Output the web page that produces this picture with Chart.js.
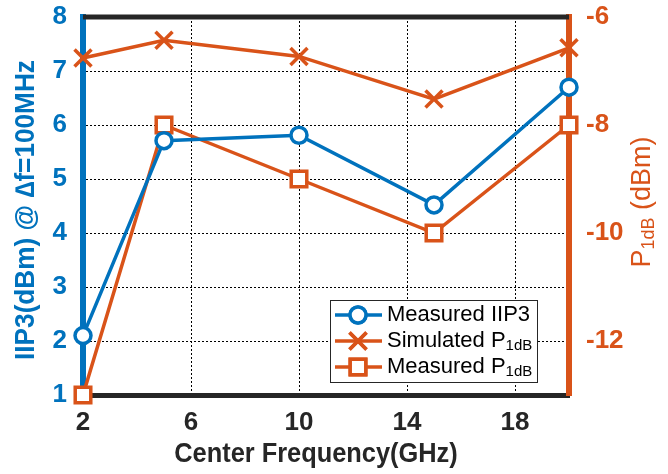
<!DOCTYPE html>
<html>
<head>
<meta charset="utf-8">
<script src="https://cdn.jsdelivr.net/npm/chart.js@4"></script>
<style>
  html, body { margin: 0; padding: 0; background: #fff; }
  #wrap { width: 668px; height: 474px; }
</style>
</head>
<body>
<div id="wrap"><canvas id="myChart" width="668" height="474"></canvas></div>
<script>
// data
const freqs = [2, 5, 10, 15, 20];
const iip3 = [2.1, 5.71, 5.81, 4.52, 6.7];
const simP1dB = [-6.76, -6.43, -6.73, -7.52, -6.57];
const measP1dB = [-13, -8, -9, -10, -8];

const xTicks = [2, 6, 10, 14, 18];
const leftTicks = [1, 2, 3, 4, 5, 6, 7, 8];
const rightTicks = [-6, -8, -10, -12];

const blue = '#0072BD';
const orange = '#D95319';
const dark = '#262626';
const FONT = "'Liberation Sans', Arial, sans-serif";

// legend entries: [main text, subscript]
const legendItems = [
    ['Measured IIP3', ''],
    ['Simulated P', '1dB'],
    ['Measured P', '1dB']
];

function pts(ys) {
    return freqs.map((f, i) => ({ x: f, y: ys[i] }));
}

function noPad(s) {
    s.paddingTop = 0;
    s.paddingBottom = 0;
    s.paddingLeft = 0;
    s.paddingRight = 0;
}

const decor = {
    id: 'decor',
    beforeDatasetsDraw(chart) {
        const c = chart.ctx, a = chart.chartArea;
        c.save();
        c.strokeStyle = dark;
        c.lineWidth = 5;
        c.beginPath();
        c.moveTo(a.left, a.top);
        c.lineTo(a.right, a.top);
        c.stroke();
        c.restore();
    },
    afterDraw(chart) {
        const c = chart.ctx, a = chart.chartArea;
        const ds = chart.data.datasets;
        c.save();
        // left title
        c.fillStyle = blue;
        c.font = 'bold 27px ' + FONT;
        c.textAlign = 'center';
        c.textBaseline = 'middle';
        c.translate(27, 210);
        c.rotate(-Math.PI / 2);
        c.scale(0.97, 1);
        c.fillText('IIP3(dBm) @ \u2206f=100MHz', 0, 0);
        c.restore();

        // right title with subscript
        c.save();
        c.fillStyle = orange;
        c.translate(643, 202);
        c.rotate(-Math.PI / 2);
        c.textBaseline = 'middle';
        c.textAlign = 'left';
        const bigR = '27px ' + FONT, smallR = '18px ' + FONT;
        c.font = bigR; const w1 = c.measureText('P').width;
        c.font = smallR; const w2 = c.measureText('1dB').width;
        c.font = bigR; const w3 = c.measureText(' (dBm)').width;
        let x0 = -(w1 + w2 + w3) / 2;
        c.font = bigR; c.fillText('P', x0, 0); x0 += w1;
        c.font = smallR; c.fillText('1dB', x0, 6); x0 += w2;
        c.font = bigR; c.fillText(' (dBm)', x0, 0);
        c.restore();

        // x title
        c.save();
        c.fillStyle = dark;
        c.font = 'bold 27px ' + FONT;
        c.textAlign = 'center';
        c.textBaseline = 'middle';
        c.translate(316, 455);
        c.scale(0.94, 1);
        c.fillText('Center Frequency(GHz)', 0, 0);
        c.restore();

        // legend box
        const bx = a.right - 239, by = a.bottom - 95, bw = 207, bh = 82;
        c.save();
        c.fillStyle = '#fff';
        c.fillRect(bx, by, bw, bh);
        c.strokeStyle = dark;
        c.lineWidth = 1;
        c.strokeRect(bx + 0.5, by + 0.5, bw, bh);
        legendItems.forEach((it, i) => {
            const d = ds[i];
            const cy = by + 15 + i * 26;
            c.strokeStyle = d.borderColor;
            c.lineWidth = d.borderWidth;
            c.beginPath();
            c.moveTo(bx + 5, cy);
            c.lineTo(bx + 52, cy);
            c.stroke();
            Chart.helpers.drawPoint(c, {
                pointStyle: d.pointStyle,
                radius: d.pointRadius,
                borderWidth: d.pointBorderWidth,
                rotation: 0
            }, bx + 28, cy);
            c.fillStyle = d.pointBackgroundColor;
            c.fill();
            c.stroke();
            c.fillStyle = '#000';
            c.textBaseline = 'middle';
            c.textAlign = 'left';
            c.font = '22px ' + FONT;
            c.fillText(it[0], bx + 57, cy);
            if (it[1]) {
                const w = c.measureText(it[0]).width;
                c.font = '15px ' + FONT;
                c.fillText(it[1], bx + 57 + w, cy + 5);
            }
        });
        c.restore();
    }
};

const ctx = document.getElementById('myChart');
new Chart(ctx, {
    type: 'line',
    data: {
        datasets: [{
            label: 'Measured IIP3',
            data: pts(iip3),
            yAxisID: 'y',
            clip: false,
            borderColor: blue,
            borderWidth: 3.5,
            pointStyle: 'circle',
            pointRadius: 8,
            pointBorderWidth: 3.5,
            pointBackgroundColor: '#fff',
            pointBorderColor: blue
        }, {
            label: 'Simulated P1dB',
            data: pts(simP1dB),
            yAxisID: 'y2',
            clip: false,
            borderColor: orange,
            borderWidth: 3.5,
            pointStyle: 'crossRot',
            pointRadius: 12,
            pointBorderWidth: 3.5,
            pointBackgroundColor: orange,
            pointBorderColor: orange
        }, {
            label: 'Measured P1dB',
            data: pts(measP1dB),
            yAxisID: 'y2',
            clip: false,
            borderColor: orange,
            borderWidth: 3.5,
            pointStyle: 'rect',
            pointRadius: 11,
            pointBorderWidth: 3.5,
            pointBackgroundColor: '#fff',
            pointBorderColor: orange
        }]
    },
    options: {
        responsive: false,
        animation: false,
        layout: { padding: { top: 17, left: 0, right: 0, bottom: 0 } },
        plugins: { legend: { display: false }, tooltip: { enabled: false } },
        scales: {
            x: {
                type: 'linear',
                min: 2,
                max: 20,
                afterBuildTicks: s => { s.ticks = xTicks.map(v => ({ value: v })); },
                afterFit: s => { s.height = 79; noPad(s); },
                grid: { color: '#000', lineWidth: 1, drawTicks: false },
                border: { color: dark, width: 5, dash: [2, 2] },
                ticks: { color: dark, padding: 12, font: { family: FONT, size: 26, weight: 'bold' } }
            },
            y: {
                position: 'left',
                min: 1,
                max: 8,
                afterBuildTicks: s => { s.ticks = leftTicks.map(v => ({ value: v })); },
                afterFit: s => { s.width = 83; noPad(s); },
                grid: { color: '#000', lineWidth: 1, drawTicks: false },
                border: { color: blue, width: 6, dash: [2, 2] },
                ticks: { color: blue, padding: 16, font: { family: FONT, size: 26, weight: 'bold' } }
            },
            y2: {
                position: 'right',
                min: -13,
                max: -6,
                afterBuildTicks: s => { s.ticks = rightTicks.map(v => ({ value: v })); },
                afterFit: s => { s.width = 99; noPad(s); },
                grid: { drawOnChartArea: false, drawTicks: false },
                border: { color: orange, width: 6 },
                ticks: { color: orange, padding: 17, font: { family: FONT, size: 26, weight: 'bold' } }
            }
        }
    },
    plugins: [decor]
});
</script>
</body>
</html>
